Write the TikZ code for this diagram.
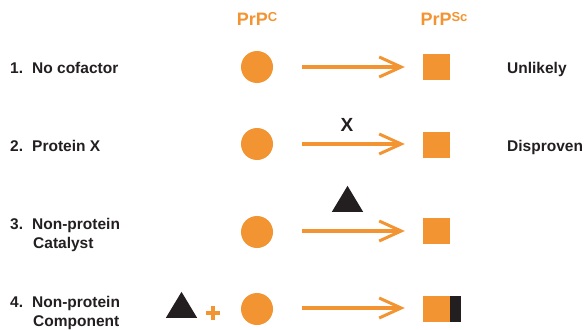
\documentclass[tikz,border=0pt]{standalone}
\usepackage{fontspec}
\setmainfont{Liberation Sans}
\usetikzlibrary{arrows.meta,shapes.geometric}
\definecolor{orng}{RGB}{243,148,50}
\definecolor{ink}{RGB}{35,31,32}
\tikzset{
  lbl/.style={font=\bfseries\fontsize{15.5}{19}\selectfont, text=ink, inner sep=0pt, anchor=base west},
  hdr/.style={font=\bfseries\fontsize{18}{20}\selectfont, text=orng, inner sep=0pt, anchor=base},
  prpc/.style={circle, fill=orng, minimum size=32pt, inner sep=0pt},
  prpsc/.style={rectangle, fill=orng, minimum width=27pt, minimum height=26pt, inner sep=0pt},
  blk/.style={rectangle, fill=ink, minimum width=11pt, minimum height=26pt, inner sep=0pt},
  tri/.style={isosceles triangle, shape border rotate=90, isosceles triangle apex angle=62, fill=ink, minimum height=26pt, inner sep=0pt},
  conv/.style={draw=orng, line width=4.6pt, shorten <=29pt, shorten >=18pt,
    -{Straight Barb[length=22pt,width=20pt,line width=3pt]}},
  plusarm/.style={draw=orng, line width=4.5pt},
}
\begin{document}
\begin{tikzpicture}[x=1pt,y=-1pt]
\useasboundingbox (0,0) rectangle (588,329);
% headers
\node[hdr] (hc) at (257,26) {PrP\raisebox{4.5pt}{\fontsize{13}{13}\selectfont C}};
\node[hdr] (hsc) at (444,26) {PrP\raisebox{4.5pt}{\fontsize{13}{13}\selectfont Sc}};
% row labels
\node[lbl] (n1) at (10,73) {1.};
\node[lbl] (t1) at (32,73) {No cofactor};
\node[lbl] (n2) at (10,151) {2.};
\node[lbl] (t2) at (32,151) {Protein X};
\node[lbl] (n3) at (10,229) {3.};
\node[lbl] (t3) at (32,229) {Non-protein};
\node[lbl] (t3b) at (33,248) {Catalyst};
\node[lbl] (n4) at (10,307) {4.};
\node[lbl] (t4) at (32,307) {Non-protein};
\node[lbl] (t4b) at (33,326) {Component};
\node[lbl] (r1) at (507,74) {Unlikely};
\node[lbl] (r2) at (507,151) {Disproven};
% circles
\node[prpc] (c1) at (257,67) {};
\node[prpc] (c2) at (257,144) {};
\node[prpc] (c3) at (257,232) {};
\node[prpc] (c4) at (257,309) {};
% squares
\node[prpsc] (s1) at (436.5,67) {};
\node[prpsc] (s2) at (436.5,145) {};
\node[prpsc] (s3) at (436.5,231) {};
\node[prpsc] (s4) at (436.5,309) {};
\node[blk, anchor=west] (b4) at (s4.east) {};
% arrows
\draw[conv] (c1) -- (s1.west |- c1);
\draw[conv] (c2) -- (s2.west |- c2);
\draw[conv] (c3.east |- 0,231) -- (s3.west);
\draw[conv] (c4.east |- 0,308) -- (s4.west |- 0,308);
% catalysts
\node[font=\bfseries\fontsize{19}{20}\selectfont, text=ink, inner sep=0pt] (x) at (347,125) {X};
\node[tri] (tr3) at (347.5,203) {};
\node[tri] (tr4) at (181.5,309) {};
\coordinate (plus) at (213,313);
\draw[plusarm] ([xshift=-7pt]plus) -- ([xshift=7pt]plus);
\draw[plusarm] ([yshift=-7pt]plus) -- ([yshift=7pt]plus);
\end{tikzpicture}
\end{document}
